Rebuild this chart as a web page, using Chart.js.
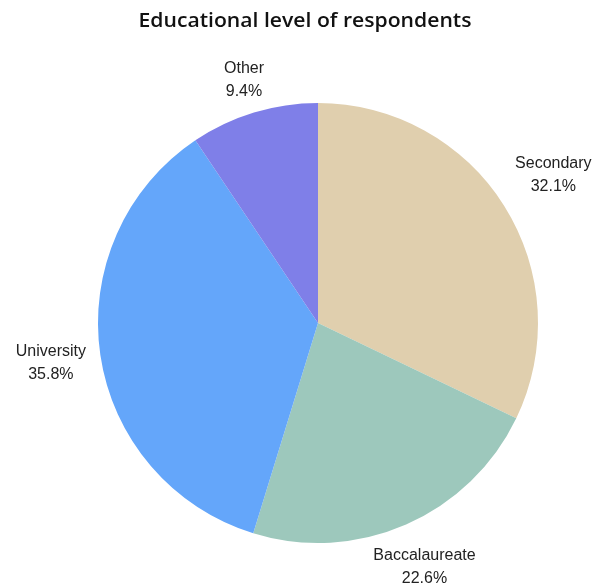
<!DOCTYPE html>
<html>
<head>
<meta charset="utf-8">
<script src="https://cdn.jsdelivr.net/npm/chart.js@4.4.0/dist/chart.umd.min.js"></script>
<style>
  html, body { margin: 0; padding: 0; background: #fff; }
  canvas { display: block; }
</style>
</head>
<body>
<canvas id="chartEducation" width="596" height="584"></canvas>
<script>
var labels = ['Secondary', 'Baccalaureate', 'University', 'Other'];
var values = [32.1, 22.6, 35.8, 9.4];
var colors = ['#e0cfae', '#9dc8bc', '#64a6fa', '#7f7fe8'];

// title drawn above the pie, labels placed outside each slice
var outsideLabels = {
    id: 'outsideLabels',
    afterDraw: function (chart) {
        var ctx = chart.ctx;
        var gap = [58, 46, 50, 34];
        ctx.save();
        ctx.fillStyle = '#111';
        ctx.textAlign = 'center';
        ctx.textBaseline = 'middle';
        ctx.font = '600 20px "Open Sans", Lato, sans-serif';
        var title = 'Educational level of respondents';
        var w = ctx.measureText(title).width;
        var sx = Math.min(1.15, 333 / w);
        ctx.save();
        ctx.translate(305, 21);
        ctx.scale(sx, 1);
        ctx.fillText(title, 0, 0);
        ctx.restore();

        ctx.fillStyle = '#222';
        ctx.font = '16px "Liberation Sans", Arial, sans-serif';
        var meta = chart.getDatasetMeta(0);
        meta.data.forEach(function (arc, i) {
            var p = arc.getProps(['x', 'y', 'startAngle', 'endAngle', 'outerRadius'], true);
            var mid = (p.startAngle + p.endAngle) / 2;
            var r = p.outerRadius + gap[i];
            var x = p.x + Math.cos(mid) * r;
            var y = p.y + Math.sin(mid) * r;
            ctx.fillText(labels[i], x, y - 11);
            ctx.fillText(values[i].toFixed(1) + '%', x, y + 12);
        });
        ctx.restore();
    }
};

new Chart(document.getElementById('chartEducation'), {
    type: 'pie',
    data: {
        labels: labels,
        datasets: [
            {
                data: values,
                backgroundColor: colors,
                borderWidth: 0,
            }
        ]
    },
    options: {
        responsive: false,
        animation: false,
        layout: {
            padding: { top: 103, bottom: 41, left: 98, right: 58 }
        },
        plugins: {
            legend: { display: false },
            title: { display: false },
            tooltip: { enabled: false }
        }
    },
    plugins: [outsideLabels]
});
</script>
</body>
</html>
